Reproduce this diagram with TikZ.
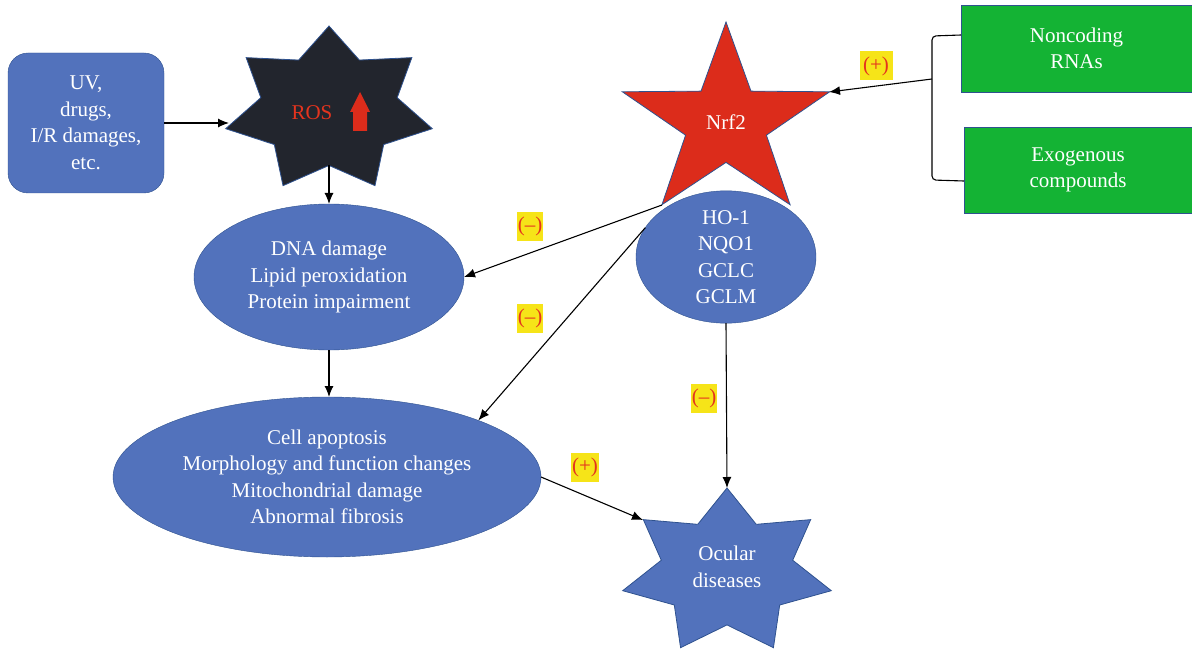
\documentclass[tikz,border=0pt]{standalone}
\usepackage{fontspec}
\setmainfont{Liberation Serif}
\usetikzlibrary{arrows.meta,shapes.geometric}
\definecolor{boxblue}{RGB}{82,114,188}
\definecolor{edgeblue}{RGB}{47,82,143}
\definecolor{rosdark}{RGB}{34,37,45}
\definecolor{nrfred}{RGB}{220,44,27}
\definecolor{boxgreen}{RGB}{20,179,52}
\definecolor{signyellow}{RGB}{246,228,24}
\definecolor{signred}{RGB}{228,52,30}
% #1 style, #2 cx, #3 cy, #4 Rh, #5 Rv, #6 n points, #7 inner ratio, #8 = 2n-1
\newcommand\drawstar[8]{%
  \path[#1] ({#2},{#3-#5}) \foreach \k in {1,...,#8} { -- ({#2+#4*(1-(1-#7)*mod(\k,2))*cos(90+\k*180/#6)},{#3-#5*(1-(1-#7)*mod(\k,2))*sin(90+\k*180/#6)}) } -- cycle;}
\begin{document}
\begin{tikzpicture}[x=1pt,y=-1pt,
  every node/.style={font=\fontsize{21}{26.5}\selectfont, align=center},
  ubox/.style={draw=edgeblue, fill=boxblue, text=white, rounded corners=20pt, minimum width=156pt, minimum height=140pt, inner sep=0pt},
  ell/.style={ellipse, draw=edgeblue, fill=boxblue, text=white, inner sep=0pt, outer sep=0pt},
  gbox/.style={draw=edgeblue, fill=boxgreen, text=white, inner sep=0pt, outer sep=0pt},
  sign/.style={fill=signyellow, text=signred, inner xsep=1pt, inner ysep=2pt, minimum height=29pt, minimum width=26pt},
  conn/.style={line width=1.1pt, -{Latex[length=11pt,width=9pt]}},
  plainline/.style={line width=1.1pt}]
\useasboundingbox (0,0) rectangle (1192,650);

% left box
\node[ubox] (uv) at (86,123) {UV,\\drugs,\\I/R damages,\\etc.};

% ROS star
\drawstar{fill=rosdark, draw=edgeblue, line width=0.8pt}{329}{110}{106}{84}{7}{0.66}{13}
\node[text=signred] (ros) at (312,113) {ROS};
\fill[nrfred] (350,112) -- (360,92) -- (370,112) -- (367,112) -- (367,131) -- (353,131) -- (353,112) -- cycle;
\coordinate (rosL) at (229,123);
\coordinate (rosB) at (329,165);

% Nrf2 star
\drawstar{fill=nrfred, draw=edgeblue, line width=0.8pt}{726}{123}{109}{101}{5}{0.39}{9}
\node[text=white] (nrf) at (726,122) {Nrf2};
\coordinate (nrfLL) at (662,205);
\coordinate (nrfR) at (829,92);

% HO-1 ellipse
\node[ell, minimum width=180pt, minimum height=124pt] (ho) at (726,257) {HO-1\\NQO1\\GCLC\\GCLM};

% DNA ellipse
\node[ell, minimum width=270pt, minimum height=146pt] (dna) at (329,277) {DNA damage\\Lipid peroxidation\\Protein impairment};

% Cell ellipse
\node[ell, minimum width=428pt, minimum height=160pt] (cell) at (327,477) {Cell apoptosis\\Morphology and function changes\\Mitochondrial damage\\Abnormal fibrosis};

% Ocular star
\drawstar{fill=boxblue, draw=edgeblue, line width=0.8pt}{727}{572}{107}{84}{7}{0.63}{13}
\node[text=white] (ocular) at (727,567) {Ocular\\diseases};
\coordinate (ocTop) at (727,488);
\coordinate (ocUL) at (643,520);

% green boxes
\node[gbox, minimum width=231pt, minimum height=87pt] (nc) at (1076.5,48.5) {Noncoding\\RNAs};
\node[gbox, minimum width=228pt, minimum height=86pt] (exo) at (1078,170) {Exogenous\\compounds};

% bracket
\coordinate (bm) at (932,79);
\draw[plainline, rounded corners=4pt] (nc.west |- 0,35) -- (932,36) -- (932,180) -- (exo.west |- 0,181);

% connectors
\draw[conn] (uv.east) -- (rosL);
\draw[conn] (rosB) -- (dna.north);
\draw[conn] (nrfLL) -- (dna.east);
\draw[conn] (ho.160) -- (cell.north east);
\draw[conn] (dna.south) -- (dna.south |- cell.north);
\draw[conn] (ho.south) -- (ocTop);
\draw[conn] (cell.east) -- (ocUL);
\draw[conn] (bm) -- (nrfR);

% signs
\node[sign, minimum width=33pt] (s1) at (876,66) {(+)};
\node[sign] (s2) at (530,226) {(–)};
\node[sign] (s3) at (530,318) {(–)};
\node[sign] (s4) at (704,398) {(–)};
\node[sign] (s5) at (585,467) {(+)};
\end{tikzpicture}
\end{document}
